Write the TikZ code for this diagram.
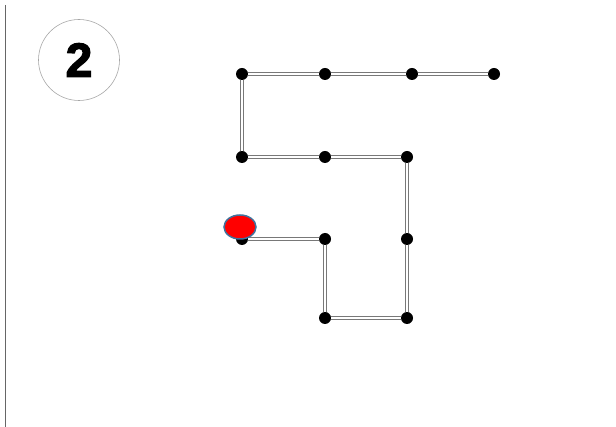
\documentclass[tikz,border=0pt]{standalone}
\usepackage{fontspec}
\setmainfont{Liberation Sans}
\newfontfamily\badgefont[BoldFeatures={FakeBold=2.5}]{Liberation Sans}
\usepackage{tikz}
\usetikzlibrary{shapes.geometric,positioning}
\definecolor{railcolor}{RGB}{120,120,120}
\definecolor{startred}{RGB}{255,0,0}
\definecolor{startedge}{RGB}{65,113,156}

\begin{document}
\begin{tikzpicture}[
    x=1pt, y=-1pt,
    dot/.style={circle, fill=black, inner sep=0pt, minimum size=12pt},
    rail/.style={draw=railcolor, double=white, double distance=1.8pt, line width=0.9pt},
    badge/.style={circle, draw=gray!70, line width=0.6pt, minimum size=81pt,
        font=\badgefont\fontsize{48}{48}\selectfont\bfseries}
]
\useasboundingbox (0,0) rectangle (616,427);

% Margin line
\draw[gray!80!black, line width=0.9pt] (5,5) -- (5,427);

% Step number
\node[badge] (badge) at (79,60) {2};

% Dots of the path
\node[dot] (a1) at (242,74) {};
\node[dot] (a2) at (325,74) {};
\node[dot] (a3) at (412,74) {};
\node[dot] (a4) at (494,74) {};
\node[dot] (b1) at (242,157) {};
\node[dot] (b2) at (325,157) {};
\node[dot] (b3) at (407,157) {};
\node[dot] (c1) at (242,239) {};
\node[dot] (c2) at (325,239) {};
\node[dot] (c3) at (407,239) {};
\node[dot] (d2) at (325,318) {};
\node[dot] (d3) at (407,318) {};

% Rails between the dots
\draw[rail] (a1) -- (a2);
\draw[rail] (a2) -- (a3);
\draw[rail] (a3) -- (a4);
\draw[rail] (a1) -- (b1);
\draw[rail] (b1) -- (b2);
\draw[rail] (b2) -- (b3);
\draw[rail] (b3) -- (c3);
\draw[rail] (c3) -- (d3);
\draw[rail] (d3) -- (d2);
\draw[rail] (d2) -- (c2);
\draw[rail] (c2) -- (c1);

% Start marker
\node[ellipse, fill=startred, draw=startedge, line width=1.5pt,
    minimum width=32pt, minimum height=24pt, inner sep=0pt] (start) at (240,227) {};

\end{tikzpicture}
\end{document}
